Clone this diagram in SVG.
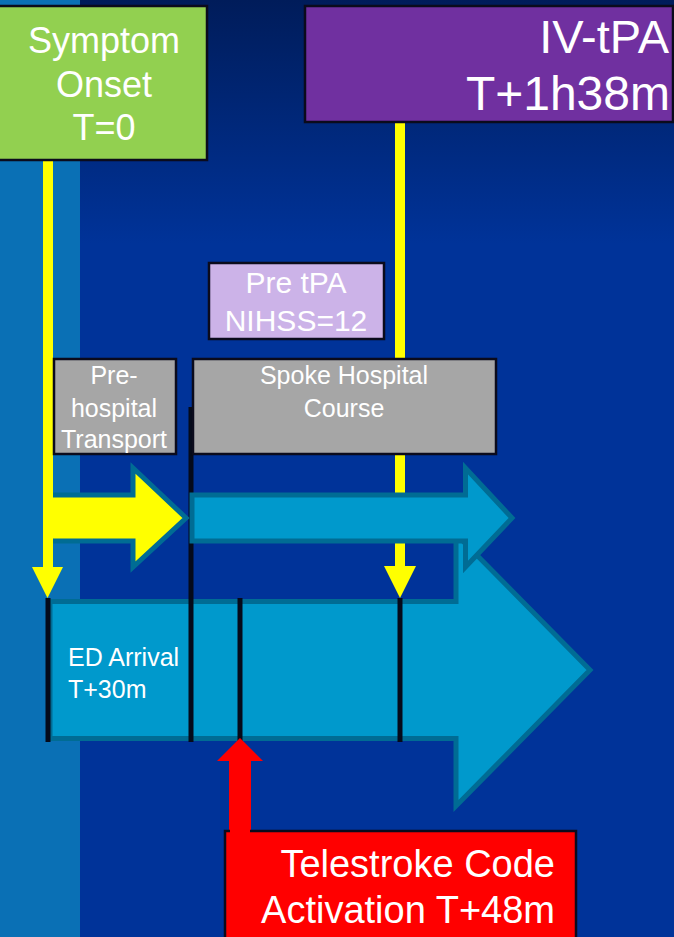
<svg xmlns="http://www.w3.org/2000/svg" width="674" height="937" viewBox="0 0 674 937">
<defs>
<linearGradient id="bg" x1="0" y1="0" x2="0" y2="937" gradientUnits="userSpaceOnUse">
<stop offset="0" stop-color="#001C5A"/>
<stop offset="0.26" stop-color="#003399"/>
<stop offset="1" stop-color="#003399"/>
</linearGradient>
<style>
.box{stroke:#0B0B1C;stroke-width:2.5}
.t{font-family:"Liberation Sans",Arial,sans-serif;fill:#FFFFFF}
.blk{fill:#0099CC;stroke:#006C94;stroke-width:5;stroke-linejoin:miter}
.tick{stroke:#050A1A;stroke-width:5}
.yl{fill:#FFFF00}
</style>
</defs>
<rect width="674" height="937" fill="url(#bg)"/>
<rect x="0" y="0" width="80" height="937" fill="#0A70B5"/>

<g id="timeline-main">
<polygon class="blk" points="50,601.5 456,601.5 456,534 590,670 456,806 456,738.5 50,738.5"/>
</g>

<g id="ticks">
<line class="tick" x1="48" y1="598" x2="48" y2="742"/>
<line class="tick" x1="191" y1="407" x2="191" y2="742"/>
<line class="tick" x1="240" y1="598" x2="240" y2="742"/>
<line class="tick" x1="400" y1="598" x2="400" y2="742"/>
</g>

<g id="connectors">
<rect class="yl" x="395" y="122" width="10" height="446"/>
<polygon class="yl" points="384,566 416,566 400,598"/>
<rect class="yl" x="43" y="160" width="10" height="408"/>
<polygon class="yl" points="32,567 63,567 47.5,598"/>
<rect x="229" y="760" width="22" height="72" fill="#FF0000"/>
<polygon points="217,761 263,761 240,738" fill="#FF0000"/>
</g>

<g id="spoke-arrow">
<polygon class="blk" points="192,495 465.5,495 465.5,468 512,518 465.5,567 465.5,541 192,541"/>
</g>

<g id="prehospital-arrow">
<polygon points="53,495 133,495 133,468 186,518 133,567 133,541 53,541" fill="#FFFF00"/>
<polyline points="53,495 133,495 133,468 186,518 133,567 133,541 53,541" fill="none" stroke="#006C94" stroke-width="5"/>
<rect class="yl" x="43" y="480" width="10" height="80"/>
</g>

<g id="symptom-onset">
<rect class="box" x="-2" y="6" width="209" height="154" fill="#92D050"/>
<text class="t" font-size="36" text-anchor="middle" x="104" y="53">Symptom</text>
<text class="t" font-size="36" text-anchor="middle" x="104" y="97">Onset</text>
<text class="t" font-size="36" text-anchor="middle" x="104" y="140">T=0</text>
</g>

<g id="iv-tpa">
<rect class="box" x="305" y="6" width="368" height="116" fill="#7030A0"/>
<text class="t" font-size="47" text-anchor="end" x="669" y="53">IV-tPA</text>
<text class="t" font-size="48" text-anchor="end" x="670" y="110">T+1h38m</text>
</g>

<g id="pre-tpa">
<rect class="box" x="209" y="263" width="175" height="76" fill="#CCB3E8"/>
<text class="t" font-size="30" text-anchor="middle" x="296" y="293">Pre tPA</text>
<text class="t" font-size="30" text-anchor="middle" x="296" y="331">NIHSS=12</text>
</g>

<g id="prehospital-transport">
<rect class="box" x="54" y="359" width="122" height="95" fill="#A6A6A6"/>
<text class="t" font-size="25" text-anchor="middle" x="114" y="384">Pre-</text>
<text class="t" font-size="25" text-anchor="middle" x="114" y="417">hospital</text>
<text class="t" font-size="25" text-anchor="middle" x="114" y="448">Transport</text>
</g>

<g id="spoke-hospital">
<rect class="box" x="193" y="359" width="303" height="95" fill="#A6A6A6"/>
<text class="t" font-size="25" text-anchor="middle" x="344" y="384">Spoke Hospital</text>
<text class="t" font-size="25" text-anchor="middle" x="344" y="417">Course</text>
</g>

<g id="ed-arrival">
<text class="t" font-size="25" x="68" y="666">ED Arrival</text>
<text class="t" font-size="25" x="68" y="698">T+30m</text>
</g>

<g id="telestroke">
<rect class="box" x="225" y="831" width="351" height="120" fill="#FF0000"/>
<rect x="230" y="825" width="20" height="8" fill="#FF0000"/>
<text class="t" font-size="38" text-anchor="end" x="555" y="877">Telestroke Code</text>
<text class="t" font-size="38" text-anchor="end" x="555" y="923">Activation T+48m</text>
</g>
</svg>
